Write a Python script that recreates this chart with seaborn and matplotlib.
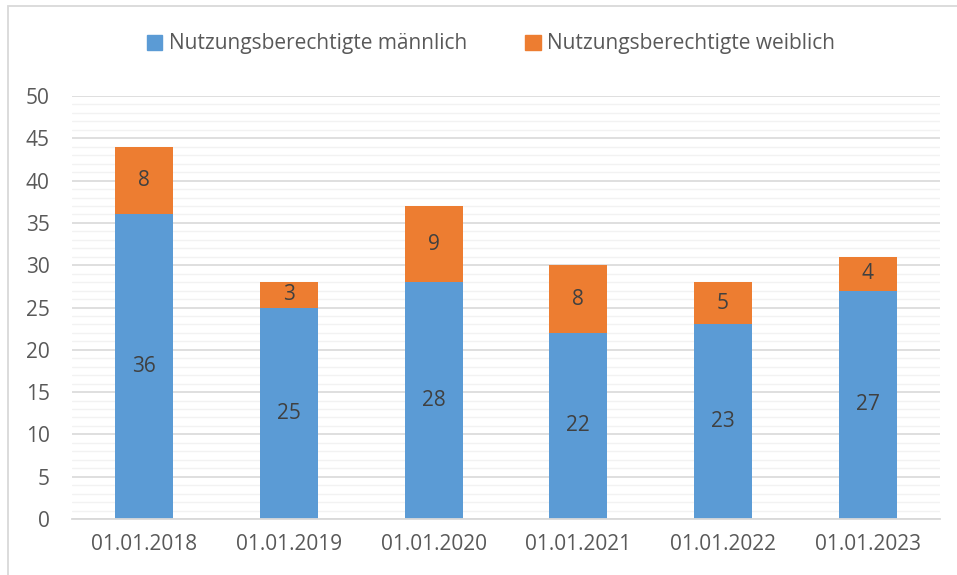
import matplotlib
matplotlib.use("Agg")
import matplotlib.pyplot as plt
from matplotlib.patches import Rectangle, Patch
from matplotlib.ticker import MultipleLocator
import seaborn as sns
import pandas as pd

dates = ["01.01.2018", "01.01.2019", "01.01.2020", "01.01.2021", "01.01.2022", "01.01.2023"]
maennlich = [36, 25, 28, 22, 23, 27]
weiblich = [8, 3, 9, 8, 5, 4]

blue = "#5B9BD5"
orange = "#ED7D31"
txt = "#595959"

df = pd.DataFrame({"datum": dates, "m": maennlich, "w": weiblich})
df["gesamt"] = df["m"] + df["w"]

sns.set_style("white")
plt.rcParams["font.family"] = ["Open Sans", "DejaVu Sans"]

fig = plt.figure(figsize=(9.57, 5.75), dpi=100)
ax = fig.add_axes([72 / 957, 1 - 519 / 575, 868 / 957, 423 / 575])

# gesamt (orange) hinten, männlich (blau) davor -> gestapelt
sns.barplot(data=df, x="datum", y="gesamt", color=orange, width=0.4,
            saturation=1, linewidth=0, ax=ax, zorder=3)
sns.barplot(data=df, x="datum", y="m", color=blue, width=0.4,
            saturation=1, linewidth=0, ax=ax, zorder=3)

bars_w = ax.containers[0]
bars_m = ax.containers[1]
ax.bar_label(bars_m, labels=[str(v) for v in maennlich], label_type="center",
             fontsize=15, color="#404040")
# Label in Mitte des orangenen Segments
for rect, m, w in zip(bars_w, maennlich, weiblich):
    ax.text(rect.get_x() + rect.get_width() / 2, m + w / 2, str(w),
            ha="center", va="center", fontsize=15, color="#404040", zorder=5)

ax.set_ylim(0, 50)
ax.set_xlim(-0.5, 5.5)
ax.yaxis.set_major_locator(MultipleLocator(5))
ax.yaxis.set_minor_locator(MultipleLocator(1))
ax.grid(axis="y", which="major", color="#D9D9D9", lw=1.2, zorder=0)
ax.grid(axis="y", which="minor", color="#F2F2F2", lw=1.0, zorder=0)
ax.set_axisbelow(True)
ax.set_xlabel("")
ax.set_ylabel("")
ax.tick_params(axis="both", which="both", length=0, labelsize=15, colors=txt)
ax.tick_params(axis="x", pad=11)
ax.tick_params(axis="y", pad=16)
for s in ["top", "right", "left"]:
    ax.spines[s].set_visible(False)
ax.spines["bottom"].set_color("#D9D9D9")
ax.spines["bottom"].set_linewidth(1.3)
ax.spines["bottom"].set_zorder(4)

handles = [Patch(color=blue, label="Nutzungsberechtigte männlich"),
           Patch(color=orange, label="Nutzungsberechtigte weiblich")]
fig.legend(handles=handles, loc="center", bbox_to_anchor=(491 / 957, 1 - 44 / 575),
           ncol=2, frameon=False, fontsize=15, labelcolor=txt,
           handlelength=0.75, handleheight=0.75, handletextpad=0.3, columnspacing=2.8)

fig.patches.append(Rectangle((8 / 957, -0.1), 1.2, 1.1 - 6 / 575, transform=fig.transFigure,
                             fill=False, ec="#D9D9D9", lw=1.3))

fig.savefig("out.png", dpi=100)
